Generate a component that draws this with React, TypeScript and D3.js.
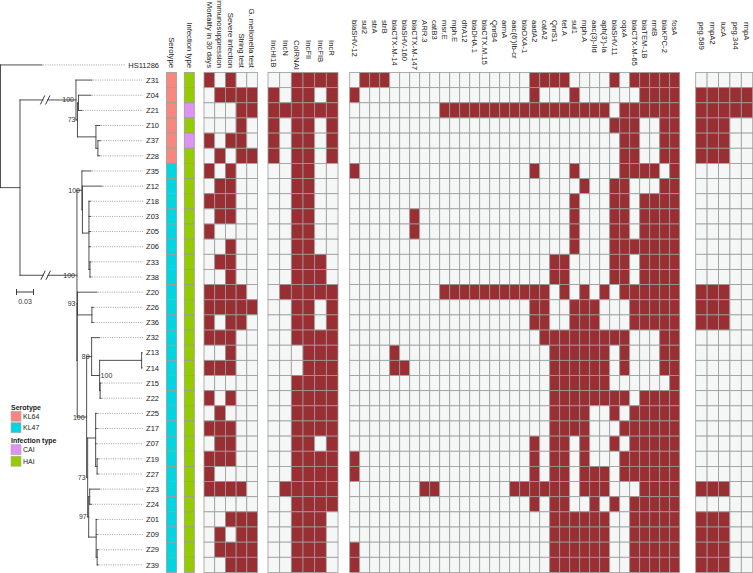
import React, { useEffect, useRef } from "react";
import * as d3 from "d3";

// ---------------- DATA ----------------
const outgroup = "HS11286";
const samples = ["Z31","Z04","Z21","Z10","Z37","Z28","Z35","Z12","Z18","Z03","Z05","Z06","Z33","Z38","Z20","Z26","Z36","Z32","Z13","Z14","Z15","Z22","Z25","Z17","Z07","Z19","Z27","Z23","Z24","Z01","Z09","Z29","Z39"];

// phylogeny (Newick, branch lengths in substitutions/site, internal labels = bootstrap)
const newick =
  "(HS11286:0.0732,(" +
  "(Z31:0.0282,((Z04:0.022,Z21:0.0062):0.0018,(Z10:0.0071,(Z37:0.0044,Z28:0.0035):0.0035):0.0326)73:0.0026)100:0.0988," +
  "((Z35:0.0159,(Z12:0.0344,(Z18:0.0026,Z03:0.0026,Z05:0.0026,Z06:0.0026,(Z33:0.0018,Z38:0.0018):0.0018):0.0115):0.0009)100:0.0088," +
  "((Z20:0.0342,(Z26:0.0026,Z36:0.0026):0.0254)93:0.0005," +
  "((Z32:0.0141,((Z13:0.0009,Z14:0.0009):0.0741,(Z15:0.0018,Z22:0.0018):0.0009)100:0.0141)89:0.0088," +
  "((Z25:0.0026,Z17:0.0026,Z07:0.0009,(Z19:0.0018,Z27:0.0018):0.0026):0.0141," +
  "((Z23:0.0176,Z24:0.0035):0.0018,(Z01:0.0018,Z09:0.0018,(Z29:0.0018,Z39:0.0018):0.0018):0.0132)97:0.0018)73:0.0018)100:0.0166):0.0005)100:0.1005" +
  "):0.0344);";
const rightLabelledClade = ["Z13", "Z22"]; // bootstrap label drawn to the right of this clade's node
const scaleBarValue = 0.03;

const serotypeLevels = ["KL64", "KL47"];
const serotype = ["KL64","KL64","KL64","KL64","KL64","KL64",
  "KL47","KL47","KL47","KL47","KL47","KL47","KL47","KL47","KL47","KL47","KL47","KL47","KL47","KL47","KL47",
  "KL47","KL47","KL47","KL47","KL47","KL47","KL47","KL47","KL47","KL47","KL47","KL47"];
const infectionLevels = ["CAI", "HAI"];
const infection = ["HAI","HAI","CAI","HAI","CAI","HAI","HAI","HAI","HAI","HAI","HAI","HAI","HAI","HAI","HAI","HAI","HAI",
  "HAI","HAI","HAI","HAI","HAI","HAI","HAI","HAI","HAI","HAI","HAI","HAI","HAI","HAI","HAI","HAI"];

const clinicalCols = ["Mortality in 30 days","Immunosuppression","Severe infection","String test","G. mellonella test"];
const clinical = ["10100","01111","00011","00010","10110","01011","10100","01100","11100","01100","10000","00100","01100","00100",
  "11110","11111","10110","11100","00100","11100","00000","10100","01000","11100","01100","11100","10000","11110","00000",
  "00111","01011","01111","00111"];

const plasmidCols = ["IncHI1B","IncN","ColRNAI","IncFII","IncFIB","IncR"];
const plasmid = ["001111","101101","111111","101101","101101","101101","001100","001100","001100","001100","001100","001100",
  "001110","001110","011111","001101","001101","001111","000111","000111","001111","001111","001111","001111","001101",
  "001111","001111","011111","001111","001110","001110","001110","001110"];

const resistanceCols = ["blaSHV-12","sul2","strA","strB","blaCTX-M-14","blaSHV-160","blaCTX-M-147","ARR.3","catB3","msr.E",
  "mph.E","dfrA12","blaDHA.1","blaCTX.M.15","QnrB4","armA","aac(6')Ib-cr","blaOXA-1","aadA2","catA2","QnrS1","tet.A","sul1",
  "mph.A","aac(3)-IId","aph(3')-Ia","blaSHV.11","oqxA","blaCTX-M-65","blaTEM-1B","rmtB","blaKPC-2","fosA"];
// column indices present in each sample (same order as samples)
const resistance: number[][] = [
  [1,2,3,18,19,20,21,26,28,29,30,31,32],
  [0,18,22,29,30,31,32],
  [9,10,11,12,13,14,15,16,17,18,19,20,21,22,23,24,25,27,28,29,30,31,32],
  [26,27,28,31,32],
  [27,28,31,32],
  [27,28,31,32],
  [0,18,22,27,28,29,30,32],
  [23,26,27,31,32],
  [22,26,27,29,30,31,32],
  [6,22,26,27,29,30,31,32],
  [6,22,26,27,29,30,31,32],
  [22,26,27,28,29,30,31,32],
  [20,21,26,27,29,30,31,32],
  [20,21,26,27,29,30,31,32],
  [9,10,11,12,13,14,15,16,17,18,19,21,23,25,27,28,29,30,31,32],
  [18,19,22,23,24,28,29,30,31,32],
  [18,19,22,23,24,28,29,30,31,32],
  [19,20,21,22,23,24,25,26,27,31,32],
  [4,20,21,22,23,24,25,27,31,32],
  [4,5,20,21,22,23,24,25,27,31,32],
  [20,21,22,23,24,25,32],
  [20,21,22,23,24,25,26,27,29,30,31,32],
  [20,21,22,23,26,28,29,30,31,32],
  [20,21,22,23,27,28,29,30,31,32],
  [18,20,21,23,26,28,29,30,31,32],
  [0,18,20,21,23,27,28,29,30,31,32],
  [0,18,20,21,23,24,25,27,28,29,30,31,32],
  [7,8,16,17,18,19,20,21,23,24,25,29,30,31,32],
  [18,20,21,24,26,28,29,30,31,32],
  [20,21,22,23,24,25,28,29,30,31,32],
  [20,21,22,23,24,25,28,29,30,31,32],
  [0,20,21,22,23,24,25,28,29,30,31,32],
  [0,20,21,22,23,24,25,28,29,30,31,32],
];

const virulenceCols = ["peg.589","rmpA2","iucA","peg.344","rmpA"];
const virulence = ["00000","11111","11111","11100","11100","11100","00000","00000","00000","00000","00000","00000","00000",
  "00000","11100","11100","11100","00000","00000","00000","00000","00000","00000","00000","00000","00000","00000","11100",
  "00000","11100","11100","11100","11100"];

// ---------------- STYLE ----------------
const W = 753, H = 573;
const GRID_TOP = 72.5, ROW_H = 15.15;
const RED = "#992F32", EMPTY = "#F5F6F6", GRID = "#9C9C9C";
const serotypeColors = ["#F8887F", "#00D6E2"];
const infectionColors = ["#DF92F3", "#96CB00"];
const FONT = "'Liberation Sans', Arial, Helvetica, sans-serif";
const TREE = "#3c3c3c";

function parseNewick(s: string) {
  let i = 0;
  function node(): any {
    const n: any = { children: [] };
    if (s[i] === "(") {
      i++;
      n.children.push(node());
      while (s[i] === ",") { i++; n.children.push(node()); }
      i++;
    }
    let lab = "";
    while (i < s.length && !",():;".includes(s[i])) lab += s[i++];
    let len = 0;
    if (s[i] === ":") {
      i++;
      let l = "";
      while (i < s.length && !",();".includes(s[i])) l += s[i++];
      len = +l;
    }
    n.len = len;
    if (n.children.length) n.label = lab; else { n.name = lab; delete n.children; }
    return n;
  }
  return node();
}

export default function App() {
  const ref = useRef<SVGSVGElement>(null);
  useEffect(() => {
    const svg = d3.select(ref.current);
    svg.selectAll("*").remove();
    const g = svg.append("g").attr("font-family", FONT);

    const tipOrder = [outgroup, ...samples];
    const rows = d3.scaleBand<string>().domain(tipOrder).range([GRID_TOP - ROW_H, GRID_TOP + samples.length * ROW_H]);
    const bw = rows.bandwidth();
    const cy = (n: string) => (rows(n) as number) + bw / 2;

    // ---------- tree ----------
    const x = d3.scaleLinear().domain([0, scaleBarValue]).range([0.5, 17.5]);
    const root: any = d3.hierarchy(parseNewick(newick), (d: any) => d.children);
    root.eachBefore((d: any) => { d.dist = d.parent ? d.parent.dist + d.data.len : 0; d.px = x(d.dist); });
    root.eachAfter((d: any) => { d.py = d.children ? d3.mean(d.children, (c: any) => c.py) : cy(d.data.name); });

    const tg = g.append("g").attr("stroke", TREE).attr("stroke-width", 0.9).attr("stroke-linecap", "square");
    root.descendants().forEach((d: any) => {
      if (d.parent) tg.append("line").attr("x1", d.parent.px).attr("x2", d.px).attr("y1", d.py).attr("y2", d.py);
      if (d.children) {
        const ys = d.children.map((c: any) => c.py);
        tg.append("line").attr("x1", d.px).attr("x2", d.px).attr("y1", d3.min(ys)).attr("y2", d3.max(ys));
      }
    });
    // axis breaks on very long branches
    root.descendants().forEach((d: any) => {
      if (d.parent && d.data.len > 0.09) {
        const mx = d.parent.px + (d.px - d.parent.px) * 0.45;
        g.append("rect").attr("x", mx - 1.8).attr("y", d.py - 1.5).attr("width", 3.6).attr("height", 3).attr("fill", "#fff");
        [-2.6, 2.6].forEach(o => {
          g.append("line").attr("x1", mx + o - 2.2).attr("y1", d.py + 4.5).attr("x2", mx + o + 2.2).attr("y2", d.py - 4.5)
            .attr("stroke", TREE).attr("stroke-width", 1);
        });
      }
    });

    // tip labels + dotted leaders
    const labelRight = 159;
    root.leaves().forEach((d: any) => {
      const t = g.append("text").attr("x", labelRight).attr("y", d.py + 2.7).attr("text-anchor", "end")
        .attr("font-size", 7.5).attr("fill", "#222").text(d.data.name);
      const w = (t.node() as SVGTextElement).getComputedTextLength();
      const x2 = labelRight - w - 3;
      if (x2 - d.px > 2) {
        g.append("line").attr("x1", d.px + 1).attr("x2", x2).attr("y1", d.py).attr("y2", d.py)
          .attr("stroke", "#888").attr("stroke-width", 0.8).attr("stroke-dasharray", "1,1.3");
      }
    });

    // bootstrap labels
    root.descendants().forEach((d: any) => {
      if (!d.children || !d.data.label) return;
      const names = d.leaves().map((l: any) => l.data.name);
      const right = names[0] === rightLabelledClade[0] && names[names.length - 1] === rightLabelledClade[1];
      g.append("text").attr("x", right ? d.px + 1 : d.px - 2).attr("y", d.py + 2.5)
        .attr("text-anchor", right ? "start" : "end").attr("font-size", 7).attr("fill", "#333").text(d.data.label);
    });

    // scale bar
    const sbY = 292;
    const sb = g.append("g").attr("stroke", TREE).attr("stroke-width", 1);
    sb.append("line").attr("x1", x(0) + 16).attr("x2", x(scaleBarValue) + 16).attr("y1", sbY).attr("y2", sbY);
    [x(0) + 16, x(scaleBarValue) + 16].forEach(v => sb.append("line").attr("x1", v).attr("x2", v).attr("y1", sbY - 3).attr("y2", sbY + 3));
    g.append("text").attr("x", (x(0) + x(scaleBarValue)) / 2 + 16).attr("y", sbY + 12).attr("text-anchor", "middle")
      .attr("font-size", 7).attr("fill", "#333").text(String(scaleBarValue));

    // ---------- heatmap blocks ----------
    type Block = { cols: string[]; x0: number; x1: number; fill: (r: number, c: number) => string; labelY: number; anchor: "start" | "end" };
    const blocks: Block[] = [
      { cols: ["Serotype"], x0: 166.5, x1: 176.5, fill: r => serotypeColors[serotypeLevels.indexOf(serotype[r])], labelY: 68, anchor: "end" },
      { cols: ["Infection type"], x0: 184.3, x1: 194.3, fill: r => infectionColors[infectionLevels.indexOf(infection[r])], labelY: 68, anchor: "end" },
      { cols: clinicalCols, x0: 204, x1: 257.5, fill: (r, c) => clinical[r][c] === "1" ? RED : EMPTY, labelY: 68, anchor: "end" },
      { cols: plasmidCols, x0: 268, x1: 338, fill: (r, c) => plasmid[r][c] === "1" ? RED : EMPTY, labelY: 40, anchor: "start" },
      { cols: resistanceCols, x0: 349.7, x1: 679.7, fill: (r, c) => resistance[r].includes(c) ? RED : EMPTY, labelY: 20, anchor: "start" },
      { cols: virulenceCols, x0: 695.7, x1: 752.7, fill: (r, c) => virulence[r][c] === "1" ? RED : EMPTY, labelY: 22, anchor: "start" },
    ];
    blocks.forEach(b => {
      const cx = d3.scaleBand<string>().domain(b.cols).range([b.x0, b.x1]);
      const bg = g.append("g");
      samples.forEach((s, r) => {
        b.cols.forEach((c, ci) => {
          bg.append("rect").attr("x", cx(c) as number).attr("y", rows(s) as number)
            .attr("width", cx.bandwidth()).attr("height", bw)
            .attr("fill", b.fill(r, ci)).attr("stroke", GRID).attr("stroke-width", 0.8);
        });
      });
      b.cols.forEach(c => {
        const mx = (cx(c) as number) + cx.bandwidth() / 2 - 2.8;
        g.append("text").attr("transform", `translate(${mx},${b.labelY}) rotate(90)`)
          .attr("text-anchor", b.anchor).attr("font-size", 7.7).attr("fill", "#222").text(c);
      });
    });

    // ---------- legend ----------
    const lg = g.append("g").attr("font-size", 7).attr("fill", "#222");
    const legends = [
      { title: "Serotype", levels: serotypeLevels, colors: serotypeColors, y: 409.5 },
      { title: "Infection type", levels: infectionLevels, colors: infectionColors, y: 443 },
    ];
    legends.forEach(L => {
      lg.append("text").attr("x", 11).attr("y", L.y).attr("font-weight", "bold").text(L.title);
      L.levels.forEach((lv, i) => {
        const y0 = L.y + 1.7 + i * 11.5;
        lg.append("rect").attr("x", 11).attr("y", y0).attr("width", 10).attr("height", 10)
          .attr("fill", L.colors[i]).attr("stroke", "#aaa").attr("stroke-width", 0.6);
        lg.append("text").attr("x", 23).attr("y", y0 + 7.6).text(lv);
      });
    });
  }, []);
  return (
    <svg ref={ref} width={W} height={H}
      style={{ position: "absolute", left: 0, top: 0, background: "#fff", display: "block" }} />
  );
}
